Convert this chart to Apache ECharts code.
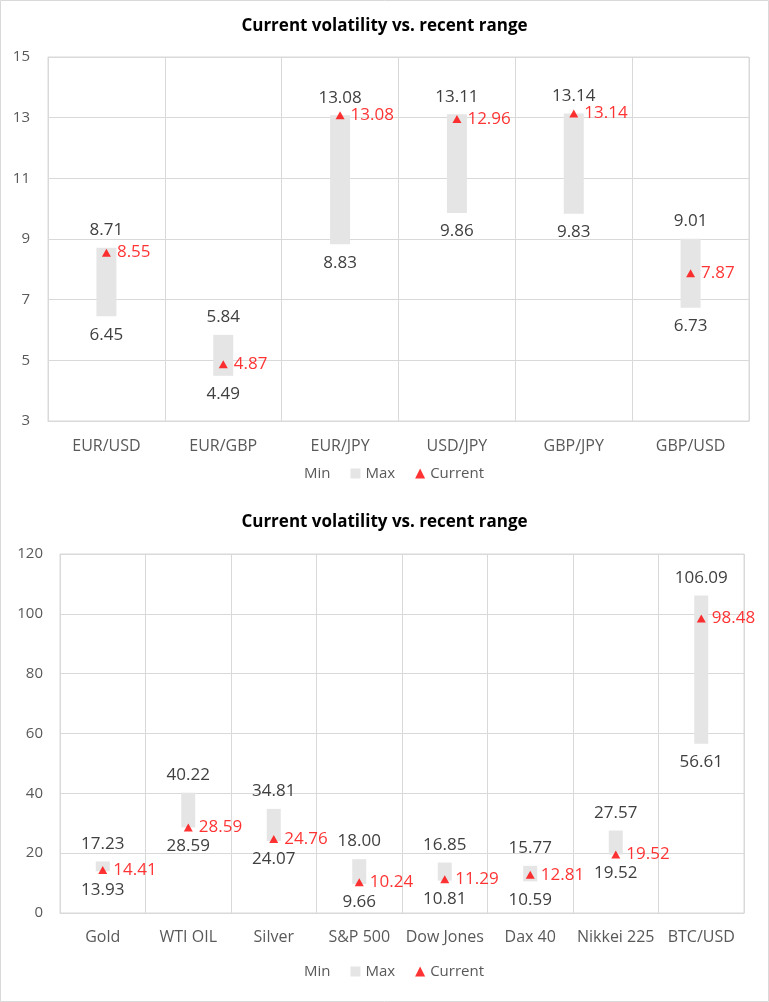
<!DOCTYPE html>
<html>
<head>
<meta charset="utf-8">
<script src="https://cdn.jsdelivr.net/npm/echarts@6/dist/echarts.min.js"></script>
<style>
html,body{margin:0;padding:0;background:#fff;}
#c{position:absolute;left:0;top:0;width:769px;height:1002px;}
</style>
</head>
<body>
<div id="c"></div>
<script>
// ---- Data: chart 1 (FX) ----
var fxCategories = ['EUR/USD','EUR/GBP','EUR/JPY','USD/JPY','GBP/JPY','GBP/USD'];
var fxMin = [6.45, 4.49, 8.83, 9.86, 9.83, 6.73];
var fxMax = [8.71, 5.84, 13.08, 13.11, 13.14, 9.01];
var fxCurrent = [8.55, 4.87, 13.08, 12.96, 13.14, 7.87];
var fxTicks = [3, 5, 7, 9, 11, 13, 15];

// ---- Data: chart 2 (other assets) ----
var asCategories = ['Gold','WTI OIL','Silver','S&P 500','Dow Jones','Dax 40','Nikkei 225','BTC/USD'];
var asMin = [13.93, 28.59, 24.07, 9.66, 10.81, 10.59, 19.52, 56.61];
var asMax = [17.23, 40.22, 34.81, 18.00, 16.85, 15.77, 27.57, 106.09];
var asCurrent = [14.41, 28.59, 24.76, 10.24, 11.29, 12.81, 19.52, 98.48];
var asTicks = [0, 20, 40, 60, 80, 100, 120];

var titleText = 'Current volatility vs. recent range';

var FONT = '"Open Sans", "Segoe UI", sans-serif';
var GRAY_TXT = '#595959';
var LBL_TXT = '#404040';
var GRID = '#d9d9d9';
var BAR = '#e5e5e5';
var RED = '#ff0000';

function fmt(v){ return Number(v).toFixed(2); }

function buildSeries(idx, mins, maxs, cur, barW){
  var range = maxs.map(function(m,i){ return +(m - mins[i]).toFixed(4); });
  return [
    {
      name:'Min', type:'bar', stack:'s'+idx, xAxisIndex:idx, yAxisIndex:idx,
      data:mins, barWidth:barW,
      itemStyle:{color:'rgba(0,0,0,0)'},
      label:{show:true, position:'insideTop', distance:10, color:LBL_TXT, fontSize:17, fontFamily:FONT,
        formatter:function(p){ return fmt(mins[p.dataIndex]); }},
      emphasis:{disabled:true}, silent:true
    },
    {
      name:'Max', type:'bar', stack:'s'+idx, xAxisIndex:idx, yAxisIndex:idx,
      data:range, barWidth:barW,
      itemStyle:{color:BAR},
      label:{show:true, position:'top', distance:9, color:LBL_TXT, fontSize:17, fontFamily:FONT,
        formatter:function(p){ return fmt(maxs[p.dataIndex]); }},
      emphasis:{disabled:true}, silent:true
    },
    {
      name:'Current', type:'scatter', xAxisIndex:idx, yAxisIndex:idx,
      data:cur, symbol:'triangle', symbolSize:[9,8], z:5,
      itemStyle:{color:RED},
      label:{show:true, position:'right', distance:6, color:RED, fontSize:17, fontFamily:FONT,
        formatter:function(p){ return fmt(cur[p.dataIndex]); }},
      emphasis:{disabled:true}, silent:true
    }
  ];
}

function xAxisCfg(idx, cats, margin){
  return {
    type:'category', gridIndex:idx, data:cats,
    axisLine:{show:true, lineStyle:{color:GRID}},
    axisTick:{show:false},
    splitLine:{show:true, interval:0, lineStyle:{color:GRID}},
    axisLabel:{color:GRAY_TXT, fontSize:16, fontFamily:FONT, margin:margin, interval:0}
  };
}
function yAxisCfg(idx, ticks, margin){
  return {
    type:'value', gridIndex:idx, min:ticks[0], max:ticks[ticks.length-1],
    interval:ticks[1]-ticks[0],
    axisLine:{show:false}, axisTick:{show:false},
    splitLine:{show:true, lineStyle:{color:GRID}},
    axisLabel:{color:GRAY_TXT, fontSize:15, fontFamily:FONT, margin:margin}
  };
}

var legendData = [
  {name:'Min'},
  {name:'Max', icon:'rect'},
  {name:'Current', icon:'triangle'}
];

var option = {
  animation:false,
  backgroundColor:'#fff',
  graphic:[{type:'rect', shape:{x:0.5,y:0.5,width:768,height:1001}, style:{fill:'none', stroke:'#d9d9d9', lineWidth:1}, silent:true}],
  title:[
    {text:titleText, left:'center', top:13, textStyle:{fontFamily:FONT, fontSize:17, fontWeight:'bold', color:'#000'}},
    {text:titleText, left:'center', top:509, textStyle:{fontFamily:FONT, fontSize:17, fontWeight:'bold', color:'#000'}}
  ],
  legend:[
    {data:legendData, left:284, top:461, itemWidth:10, itemHeight:10, itemGap:20,
      textStyle:{color:GRAY_TXT, fontSize:15, fontFamily:FONT}, selectedMode:false},
    {data:legendData, left:284, top:959, itemWidth:10, itemHeight:10, itemGap:20,
      textStyle:{color:GRAY_TXT, fontSize:15, fontFamily:FONT}, selectedMode:false}
  ],
  grid:[
    {left:48, top:57, width:701, height:364, show:true, borderColor:GRID, borderWidth:1, containLabel:false},
    {left:60, top:554, width:684, height:359, show:true, borderColor:GRID, borderWidth:1, containLabel:false}
  ],
  xAxis:[xAxisCfg(0, fxCategories, 17), xAxisCfg(1, asCategories, 16)],
  yAxis:[yAxisCfg(0, fxTicks, 18), yAxisCfg(1, asTicks, 17)],
  series: buildSeries(0, fxMin, fxMax, fxCurrent, 20).concat(buildSeries(1, asMin, asMax, asCurrent, 14))
};

var chart = echarts.init(document.getElementById('c'), null, {renderer:'canvas'});
chart.setOption(option);
</script>
</body>
</html>
